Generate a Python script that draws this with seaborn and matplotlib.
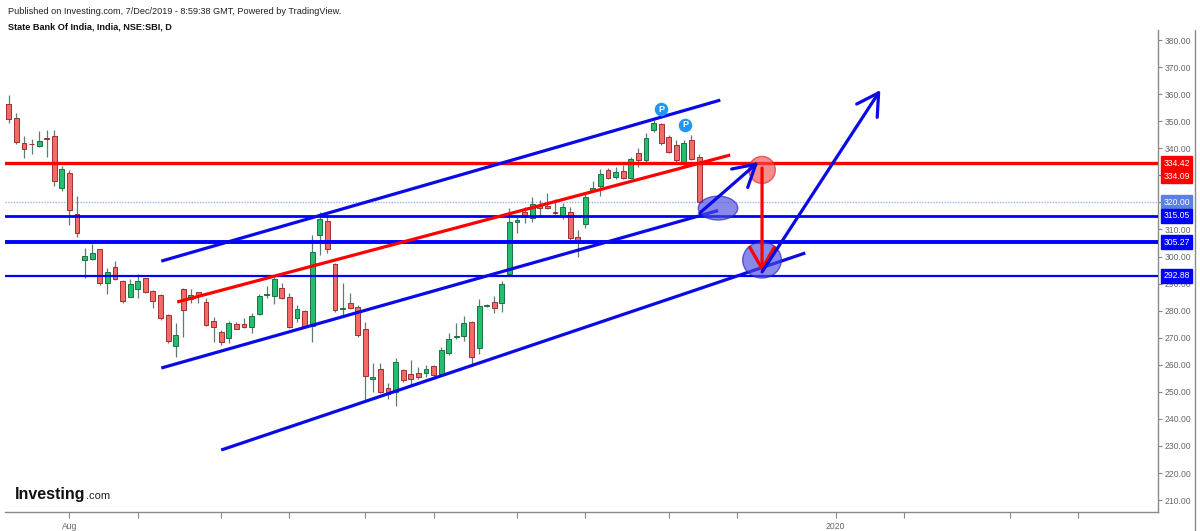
import numpy as np
import pandas as pd
import seaborn as sns
import matplotlib.pyplot as plt
import matplotlib.transforms as mtransforms
from matplotlib.patches import Ellipse
from matplotlib.lines import Line2D

# daily candles, SBI, mid Jul 2019 -> 6 Dec 2019 (bar index 0..91)
opens = [356.2, 351.3, 341.8, 341.7, 340.7, 343.9, 344.4, 325.2, 330.7, 315.6,
         298.7, 299.0, 302.7, 290.3, 296.2, 291.1, 285.1, 288.0, 291.9, 287.4,
         285.8, 278.4, 266.9, 288.0, 284.2, 286.8, 283.3, 276.2, 272.0, 269.8,
         275.0, 275.0, 274.1, 278.7, 285.8, 285.5, 288.5, 285.1, 277.2, 280.0,
         274.3, 307.9, 313.2, 297.2, 280.5, 282.7, 281.4, 273.1, 254.8, 258.4,
         251.5, 250.0, 258.0, 256.5, 257.1, 256.8, 259.5, 256.6, 264.4, 270.4,
         270.7, 275.9, 266.1, 281.6, 283.3, 282.9, 293.5, 312.6, 316.3, 314.1,
         318.8, 318.5, 316.5, 315.0, 316.3, 307.1, 312.0, 324.2, 326.0, 332.0,
         329.3, 331.6, 328.9, 338.1, 335.7, 346.7, 349.0, 344.0, 341.2, 334.2,
         343.0, 336.7]
highs = [359.7, 353.1, 344.6, 343.4, 346.3, 346.6, 346.7, 333.3, 331.8, 322.4,
         303.0, 304.5, 302.9, 295.6, 298.2, 291.5, 291.6, 293.4, 292.1, 287.6,
         286.0, 278.6, 275.3, 288.3, 287.9, 287.0, 284.5, 277.7, 272.8, 276.3,
         275.9, 277.2, 279.0, 286.0, 289.1, 292.3, 290.3, 286.4, 282.1, 280.3,
         307.9, 316.5, 315.3, 297.5, 290.1, 286.4, 282.0, 275.9, 260.7, 260.5,
         253.1, 262.4, 258.5, 261.7, 259.3, 259.9, 259.8, 266.4, 271.6, 275.3,
         278.0, 276.3, 284.2, 282.3, 285.4, 291.1, 317.8, 314.7, 318.4, 321.9,
         320.9, 323.6, 321.1, 319.9, 318.4, 309.8, 323.0, 327.9, 332.2, 332.6,
         333.2, 333.8, 336.7, 340.2, 345.7, 350.4, 349.2, 344.9, 343.0, 343.0,
         344.9, 337.9]
lows = [349.2, 341.5, 336.3, 337.8, 340.6, 336.9, 326.0, 324.3, 311.6, 307.3,
        291.9, 298.8, 289.5, 286.0, 291.3, 282.9, 284.9, 284.5, 286.4, 280.9,
        276.5, 267.9, 263.0, 270.1, 282.9, 282.7, 274.3, 268.5, 267.3, 267.9,
        273.1, 273.5, 271.6, 278.5, 284.5, 282.4, 284.2, 273.5, 275.9, 274.0,
        268.5, 300.5, 301.2, 279.6, 277.7, 280.5, 270.4, 247.0, 250.0, 249.7,
        247.2, 244.7, 253.7, 252.1, 254.6, 255.6, 255.6, 256.0, 263.6, 269.4,
        268.9, 259.5, 264.0, 281.3, 279.0, 279.6, 293.2, 308.8, 312.5, 312.9,
        314.5, 317.4, 315.3, 313.7, 306.1, 299.9, 310.4, 323.8, 322.4, 328.7,
        328.5, 328.8, 328.5, 333.2, 335.0, 346.1, 341.2, 338.1, 334.4, 332.6,
        335.6, 319.7]
closes = [350.9, 342.2, 339.7, 341.4, 342.7, 343.6, 327.8, 332.3, 317.2, 308.8,
          300.3, 301.4, 290.1, 294.4, 291.6, 283.7, 289.8, 291.1, 286.8, 283.7,
          277.2, 268.8, 271.0, 280.2, 285.8, 285.4, 274.7, 273.8, 268.5, 275.3,
          273.3, 274.1, 278.0, 285.4, 286.2, 291.8, 284.5, 274.1, 280.5, 274.1,
          301.8, 313.9, 302.7, 280.2, 281.0, 281.1, 271.0, 255.9, 255.3, 250.0,
          249.2, 261.1, 254.4, 254.6, 255.6, 258.5, 256.2, 265.4, 269.5, 270.7,
          275.3, 263.0, 281.8, 281.9, 280.8, 289.8, 312.6, 313.5, 314.5, 319.3,
          317.8, 318.1, 316.1, 318.4, 306.9, 305.8, 322.1, 325.4, 330.5, 328.9,
          331.3, 329.1, 336.0, 335.7, 343.7, 349.4, 341.8, 338.7, 335.7, 341.8,
          336.0, 320.0]

# horizontal levels drawn on the chart
level_values = [334.42, 315.05, 305.27, 292.88]
level_colors = ["#ff0000", "#0000ff", "#0000ff", "#0000ff"]
level_widths = [2.4, 2.0, 2.8, 1.6]
last_price = 320.00

# trend lines: (bar index pair, price pair)
channel_top = ([20.1, 93.8], [298.3, 357.8])
channel_mid = ([20.1, 93.5], [258.8, 317.0])
channel_low = ([28.0, 105.0], [228.5, 301.3])
red_trend = ([22.2, 95.1], [283.2, 337.5])

# arrows: (start, end)
arrow_small = ((91.1, 316.1), (98.8, 334.9))
arrow_down = ((99.3, 332.7), (99.3, 294.3))
arrow_up = ((99.3, 294.3), (114.9, 361.5))

# marked zones: (centre, width in bars, height in price)
zone_red = ((99.3, 332.0), 3.5, 10.0)
zone_blue_small = ((93.5, 317.9), 5.2, 8.8)
zone_blue_big = ((99.3, 298.7), 5.1, 13.3)

# pivot "P" markers
pivot_x = [86.0, 89.2]
pivot_y = [354.5, 348.6]

# right scale tags: text, price position, colour
tag_texts = ["334.42", "334.09", "320.00", "315.05", "305.27", "292.88"]
tag_prices = [334.42, 329.6, 320.0, 315.05, 305.27, 292.88]
tag_colors = ["#ff0000", "#ff0000", "#5a80e0", "#0000ff", "#0000ff", "#0000ff"]

yticks = np.arange(210, 381, 10)
xtick_pos = [8, 17, 28, 37, 47, 56, 67, 76, 87, 96, 109, 118, 132, 141]
xtick_lab = ["Aug", "", "", "", "", "", "", "", "", "", "2020", "", "", ""]

sns.set_theme(style="white")
plt.rcParams["font.family"] = ["Liberation Sans", "DejaVu Sans"]

df = pd.DataFrame({"o": opens, "h": highs, "l": lows, "c": closes})
df["i"] = np.arange(len(df))
df["up"] = df["c"] >= df["o"]

fig = plt.figure(figsize=(12, 5.31), dpi=100)
ax = fig.add_axes([5 / 1200, 19 / 531, 1153 / 1200, 482 / 531])

# wicks then bodies
ax.vlines(df["i"], df["l"], df["h"], color="#5e7d6c", lw=0.9, zorder=2)
body_lo = df[["o", "c"]].min(axis=1)
body_h = (df["c"] - df["o"]).abs().clip(lower=0.35)
ax.bar(df["i"], body_h, bottom=body_lo, width=0.64,
       color=np.where(df["up"], "#22bf6e", "#f26b66"),
       edgecolor=np.where(df["up"], "#1d7043", "#9e3030"),
       linewidth=0.7, zorder=3)

# levels
for v, c, w in zip(level_values, level_colors, level_widths):
    ax.axhline(v, color=c, lw=w, zorder=4)
ax.axhline(last_price, color="#9fb5ee", lw=1.0, ls=(0, (1, 1)), zorder=1)

# trend lines
for (xs, ys), col in [(channel_top, "#0a0ae6"), (channel_mid, "#0a0ae6"),
                      (channel_low, "#0a0ae6"), (red_trend, "#ff0000")]:
    sns.lineplot(x=xs, y=ys, color=col, lw=2.3, ax=ax, zorder=4,
                 solid_capstyle="butt")

# zones
for (cx, cy), w, h, fc, ec in [(*zone_blue_small, "#4a4ae0", "#1e1ec8"),
                              (*zone_blue_big, "#4a4ae0", "#1e1ec8"),
                              (*zone_red, "#f25050", "#e02020")]:
    ax.add_patch(Ellipse((cx, cy), w, h, facecolor=fc, edgecolor=ec,
                         alpha=0.65, lw=1.0, zorder=5))

# arrows
for (s, e), col in [(arrow_small, "#0a0ae6"), (arrow_down, "#ff0000"),
                    (arrow_up, "#0a0ae6")]:
    ax.annotate("", xy=e, xytext=s, zorder=6,
                arrowprops=dict(arrowstyle="->,head_length=0.7,head_width=0.4",
                                color=col, lw=2.3, shrinkA=0, shrinkB=0,
                                mutation_scale=22))

# pivot markers
ax.scatter(pivot_x, pivot_y, s=95, color="#2196f3", zorder=6, linewidths=0)
for px, py in zip(pivot_x, pivot_y):
    ax.text(px, py, "P", color="white", fontsize=6.5, fontweight="bold",
            ha="center", va="center", zorder=7)

ax.set_xlim(-0.5, 151.5)
ax.set_ylim(205.6, 383.7)

ax.yaxis.tick_right()
ax.set_yticks(yticks)
ax.set_yticklabels([f"{v:.2f}" for v in yticks])
ax.set_xticks(xtick_pos)
ax.set_xticklabels(xtick_lab)
ax.tick_params(axis="y", right=True, length=3, width=0.8, color="#888888",
               labelsize=6.2, labelcolor="#666666", pad=2)
ax.tick_params(axis="x", bottom=True, length=4, width=0.8, color="#888888",
               labelsize=6.2, labelcolor="#666666", pad=3)
for side in ["left", "top"]:
    ax.spines[side].set_visible(False)
for side in ["right", "bottom"]:
    ax.spines[side].set_color("#8a8a8a")
    ax.spines[side].set_linewidth(1.0)
ax.grid(False)

# price tags on the right scale
trans = mtransforms.blended_transform_factory(ax.transAxes, ax.transData)
for t, p, c in zip(tag_texts, tag_prices, tag_colors):
    ax.text(1.0045, p, t, transform=trans, ha="left", va="center",
            color="white", fontsize=6.2, zorder=8, clip_on=False,
            bbox=dict(boxstyle="square,pad=0.28", fc=c, ec=c))

# outer right border of the price scale
fig.add_artist(Line2D([1195 / 1200, 1195 / 1200], [0, 501 / 531],
                      color="#8a8a8a", lw=1.0))

# header and logo
fig.text(8 / 1200, 1 - 11 / 531,
         "Published on Investing.com, 7/Dec/2019 - 8:59:38 GMT, Powered by TradingView.",
         fontsize=6.6, color="#222222", va="center")
fig.text(8 / 1200, 1 - 27 / 531, "State Bank Of India, India, NSE:SBI, D",
         fontsize=6.6, fontweight="bold", color="#111111", va="center")
logo = fig.text(15 / 1200, 1 - 494 / 531, "Investing", fontsize=11.5,
                fontweight="bold", color="#111111", va="center")
fig.canvas.draw()
bb = logo.get_window_extent()
fig.text(bb.x1 / 1200 + 0.0005, 1 - 496 / 531, ".com", fontsize=8,
         color="#222222", va="center")

fig.savefig("out.png", dpi=100)
